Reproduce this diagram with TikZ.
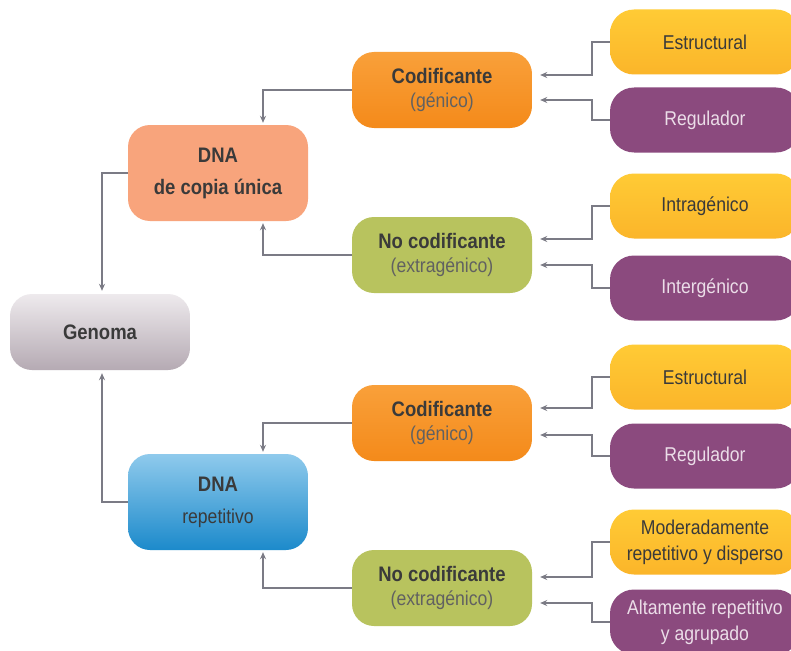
\documentclass[tikz,border=0pt]{standalone}
\usepackage{fontspec}
\setmainfont{Liberation Sans}[FakeStretch=0.88]
\usetikzlibrary{arrows.meta,calc}
\definecolor{peach}{HTML}{F8A47C}
\definecolor{gtop}{HTML}{EEEAED}
\definecolor{gbot}{HTML}{B5AAB3}
\definecolor{btop}{HTML}{8FCAEC}
\definecolor{bbot}{HTML}{1C8ACB}
\definecolor{otop}{HTML}{F9A03A}
\definecolor{obot}{HTML}{F48A1A}
\definecolor{olive}{HTML}{B8C35E}
\definecolor{ytop}{HTML}{FFCB35}
\definecolor{ybot}{HTML}{FBB52A}
\definecolor{purp}{HTML}{8B4A7E}
\definecolor{arrgray}{HTML}{7B7B85}
\definecolor{txtdark}{HTML}{3A3A3A}
\definecolor{txtlight}{HTML}{EBDDE8}
\tikzset{
  box/.style={rounded corners=22pt, inner sep=0pt, align=center, text=txtdark},
  bigbox/.style={box, minimum width=180pt, minimum height=96pt, font=\fontsize{21}{32}\selectfont},
  midbox/.style={box, minimum width=180pt, minimum height=76pt, font=\fontsize{21}{24}\selectfont},
  rbox/.style={box, minimum width=190pt, minimum height=65pt, rounded corners=24pt},
  yel/.style={rbox, top color=ytop, bottom color=ybot, text=txtdark},
  pur/.style={rbox, fill=purp, text=txtlight},
  arr/.style={draw=arrgray, line width=1.5pt, -{Stealth[length=7pt,width=6pt]}},
  rg/.style={font=\fontsize{20}{25}\selectfont}
}
\begin{document}
\begin{tikzpicture}[x=1pt,y=-1pt]
\useasboundingbox[fill=white] (0,0) rectangle (791,650);
% left
\node[box, minimum width=180pt, minimum height=76pt, top color=gtop, bottom color=gbot, font=\fontsize{21}{24}\selectfont\bfseries] (g) at (100,332) {Genoma};
\node[bigbox, fill=peach] (d1) at (218,173) {\bfseries DNA\\\bfseries de copia única};
\node[bigbox, top color=btop, bottom color=bbot] (d2) at (218,502) {\bfseries DNA\\\fontsize{20}{32}\selectfont repetitivo};
% middle
\node[midbox, top color=otop, bottom color=obot] (c1) at (442,90) {\bfseries Codificante\\\fontsize{20}{24}\selectfont\color{txtdark!80}(génico)};
\node[midbox, fill=olive] (n1) at (442,255) {\bfseries No codificante\\\fontsize{20}{24}\selectfont\color{txtdark!80}(extragénico)};
\node[midbox, top color=otop, bottom color=obot] (c2) at (442,423) {\bfseries Codificante\\\fontsize{20}{24}\selectfont\color{txtdark!80}(génico)};
\node[midbox, fill=olive] (n2) at (442,588) {\bfseries No codificante\\\fontsize{20}{24}\selectfont\color{txtdark!80}(extragénico)};
% right
\node[yel, rg] (r1) at (705,42) {Estructural};
\node[pur, rg] (r2) at (705,120) {Regulador};
\node[yel, rg] (r3) at (705,206) {Intragénico};
\node[pur, rg] (r4) at (705,288) {Intergénico};
\node[yel, rg] (r5) at (705,377) {Estructural};
\node[pur, rg] (r6) at (705,456) {Regulador};
\node[yel, font=\fontsize{20}{26}\selectfont] (r7) at (705,542) {Moderadamente\\repetitivo y disperso};
\node[pur, font=\fontsize{20}{26}\selectfont] (r8) at (705,622) {Altamente repetitivo\\y agrupado};
% right connectors
\draw[arr] (r1.west) -- ++(-18,0) |- ($(c1.east)+(8,-15)$);
\draw[arr] (r2.west) -- ++(-18,0) |- ($(c1.east)+(8,10)$);
\draw[arr] (r3.west) -- ++(-18,0) |- ($(n1.east)+(8,-16)$);
\draw[arr] (r4.west) -- ++(-18,0) |- ($(n1.east)+(8,10)$);
\draw[arr] (r5.west) -- ++(-18,0) |- ($(c2.east)+(8,-15)$);
\draw[arr] (r6.west) -- ++(-18,0) |- ($(c2.east)+(8,12)$);
\draw[arr] (r7.west) -- ++(-18,0) |- ($(n2.east)+(8,-11)$);
\draw[arr] (r8.west) -- ++(-18,0) |- ($(n2.east)+(8,15)$);
% middle to DNA
\draw[arr] (c1.west) -| ($(d1.north)+(45,-2)$);
\draw[arr] (n1.west) -| ($(d1.south)+(45,2)$);
\draw[arr] (c2.west) -| ($(d2.north)+(45,-2)$);
\draw[arr] (n2.west) -| ($(d2.south)+(45,2)$);
% DNA to Genoma
\draw[arr] (d1.west) -| ($(g.north)+(2,-3)$);
\draw[arr] (d2.west) -| ($(g.south)+(2,3)$);
\end{tikzpicture}
\end{document}
